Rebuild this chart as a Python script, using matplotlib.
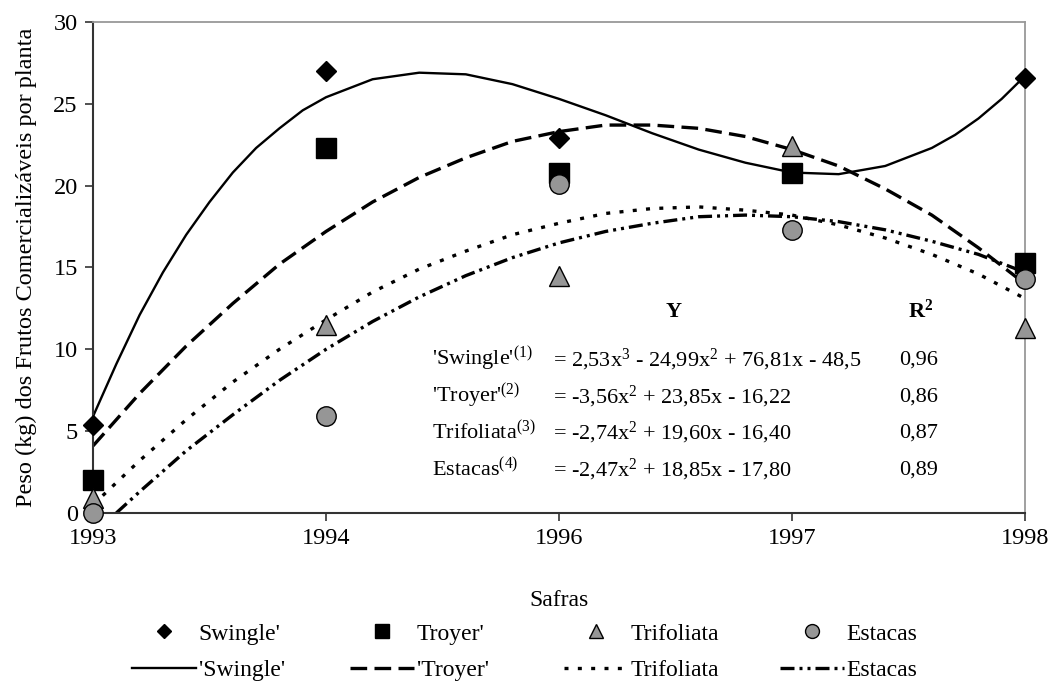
import numpy as np
import matplotlib
matplotlib.use("Agg")
import matplotlib.pyplot as plt
from matplotlib.lines import Line2D

plt.rcParams['font.family'] = ['Liberation Serif', 'DejaVu Serif']
plt.rcParams['mathtext.fontset'] = 'custom'
plt.rcParams['mathtext.rm'] = 'Liberation Serif'
plt.rcParams['mathtext.it'] = 'Liberation Serif:italic'
plt.rcParams['mathtext.bf'] = 'Liberation Serif:bold'

# categories (x = 1..5 in the fitted equations)
safras = ['1993', '1994', '1996', '1997', '1998']
xpos = [1, 2, 3, 4, 5]

# observed values (kg per plant)
swingle = [5.4, 27.0, 22.9, 20.8, 26.6]
troyer = [2.0, 22.3, 20.8, 20.8, 15.3]
trifoliata = [0.9, 11.5, 14.5, 22.4, 11.3]
estacas = [0.0, 5.9, 20.1, 17.3, 14.3]

# trend lines
swingle_x = [1.0, 1.1, 1.2, 1.3, 1.4, 1.5, 1.6, 1.7, 1.8, 1.9, 2.0,
             2.2, 2.4, 2.6, 2.8, 3.0, 3.2, 3.4, 3.6, 3.8, 4.0,
             4.2, 4.4, 4.6, 4.7, 4.8, 4.9, 5.0]
swingle_fit = [5.9, 9.1, 12.1, 14.7, 17.0, 19.0, 20.8, 22.3, 23.5, 24.6, 25.4,
               26.5, 26.9, 26.8, 26.2, 25.3, 24.3, 23.2, 22.2, 21.4, 20.8,
               20.7, 21.2, 22.3, 23.1, 24.1, 25.3, 26.7]
trend_x = [1.0, 1.2, 1.4, 1.6, 1.8, 2.0, 2.2, 2.4, 2.6, 2.8, 3.0,
           3.2, 3.4, 3.6, 3.8, 4.0, 4.2, 4.4, 4.6, 4.8, 5.0]
troyer_fit = [4.1, 7.3, 10.2, 12.8, 15.2, 17.2, 19.0, 20.5, 21.7, 22.7, 23.3,
              23.7, 23.7, 23.5, 23.0, 22.2, 21.2, 19.8, 18.2, 16.2, 14.0]
trifoliata_fit = [0.5, 3.2, 5.7, 8.0, 10.0, 11.8, 13.5, 14.9, 16.0, 17.0, 17.7,
                  18.3, 18.6, 18.7, 18.5, 18.2, 17.6, 16.8, 15.8, 14.6, 13.1]
estacas_x = [1.1, 1.2, 1.4, 1.6, 1.8, 2.0, 2.2, 2.4, 2.6, 2.8, 3.0,
             3.2, 3.4, 3.6, 3.8, 4.0, 4.2, 4.4, 4.6, 4.8, 5.0]
estacas_fit = [0.0, 1.3, 3.8, 6.0, 8.1, 10.0, 11.7, 13.2, 14.5, 15.6, 16.5,
               17.2, 17.7, 18.1, 18.2, 18.1, 17.8, 17.3, 16.6, 15.8, 14.7]

eq_names = ["'Swingle'$^{(1)}$", "'Troyer'$^{(2)}$", "Trifoliata$^{(3)}$", "Estacas$^{(4)}$"]
eq_texts = ["= 2,53x$^3$ - 24,99x$^2$ + 76,81x - 48,5",
            "= -3,56x$^2$ + 23,85x - 16,22",
            "= -2,74x$^2$ + 19,60x - 16,40",
            "= -2,47x$^2$ + 18,85x - 17,80"]
r2 = ['0,96', '0,86', '0,87', '0,89']

gray = '#969696'
ls_troyer = (0, (5, 2.2))
ls_trif = (0, (1.2, 2.8))
ls_est = (0, (4.2, 1.5, 0.9, 1.5, 0.9, 1.5))

fig = plt.figure(figsize=(10.5, 6.88), dpi=100)
ax = fig.add_axes([0.0886, 0.2544, 0.8876, 0.7137])

ax.plot(swingle_x, swingle_fit, color='black', lw=1.7)
ax.plot(trend_x, troyer_fit, color='black', lw=2.4, ls=ls_troyer)
ax.plot(trend_x, trifoliata_fit, color='black', lw=2.4, ls=ls_trif)
ax.plot(estacas_x, estacas_fit, color='black', lw=2.4, ls=ls_est)

mk = dict(ls='none', clip_on=False, zorder=5)
ax.plot(xpos, swingle, marker='D', ms=9.7, color='black', mec='black', **mk)
ax.plot(xpos, troyer, marker='s', ms=14, color='black', mec='black', **mk)
ax.plot(xpos, trifoliata, marker='^', ms=14, color=gray, mec='black', mew=1, **mk)
ax.plot(xpos, estacas, marker='o', ms=14, color=gray, mec='black', mew=1, **mk)

ax.set_xlim(1, 5)
ax.set_ylim(0, 30)
ax.set_xticks(xpos)
ax.set_xticklabels(safras)
ax.set_yticks(range(0, 31, 5))
ax.tick_params(axis='both', direction='out', length=6, width=1.2, labelsize=17.5, color='#333333')
ax.tick_params(axis='y', pad=5)
ax.tick_params(axis='x', pad=5)

for s in ['left', 'bottom']:
    ax.spines[s].set_color('#333333')
    ax.spines[s].set_linewidth(1.5)
for s in ['top', 'right']:
    ax.spines[s].set_color('#999999')
    ax.spines[s].set_linewidth(1.3)

ax.set_ylabel('Peso (kg) dos Frutos Comercializáveis por planta', fontsize=17.5, labelpad=12)
ax.set_xlabel('Safras', fontsize=17, labelpad=29)

# equations box
ax.text(3.49, 12.3, 'Y', fontsize=16, fontweight='bold', ha='center', va='center')
ax.text(4.55, 12.3, r'$\mathbf{R^2}$', fontsize=16, ha='center', va='center')
rows_y = [9.35, 7.1, 4.9, 2.65]
for i in range(4):
    ax.text(2.455, rows_y[i], eq_names[i], fontsize=16, ha='left', va='center')
    ax.text(2.975, rows_y[i], eq_texts[i], fontsize=16, ha='left', va='center')
    ax.text(4.545, rows_y[i], r2[i], fontsize=16, ha='center', va='center')

# legend: one column per group, markers on top row, trend line below
leg_cols = [
    (Line2D([], [], ls='none', marker='D', ms=7, color='black'),
     Line2D([], [], color='black', lw=1.7), "Swingle'", "'Swingle'"),
    (Line2D([], [], ls='none', marker='s', ms=10, color='black'),
     Line2D([], [], color='black', lw=2.4, ls=ls_troyer), "Troyer'", "'Troyer'"),
    (Line2D([], [], ls='none', marker='^', ms=10, color=gray, mec='black', mew=1),
     Line2D([], [], color='black', lw=2.4, ls=ls_trif), "Trifoliata", "Trifoliata"),
    (Line2D([], [], ls='none', marker='o', ms=10, color=gray, mec='black', mew=1),
     Line2D([], [], color='black', lw=2.4, ls=ls_est), "Estacas", "Estacas"),
]
col_x = [0.1257, 0.3333, 0.5371, 0.7429]
for i, (h1, h2, l1, l2) in enumerate(leg_cols):
    fig.legend([h1, h2], [l1, l2], loc='center left', bbox_to_anchor=(col_x[i], 0.0523),
               frameon=False, fontsize=17, handlelength=2.7, handletextpad=0.12,
               labelspacing=0.62, borderpad=0, borderaxespad=0)

fig.savefig('out.png', dpi=100)
